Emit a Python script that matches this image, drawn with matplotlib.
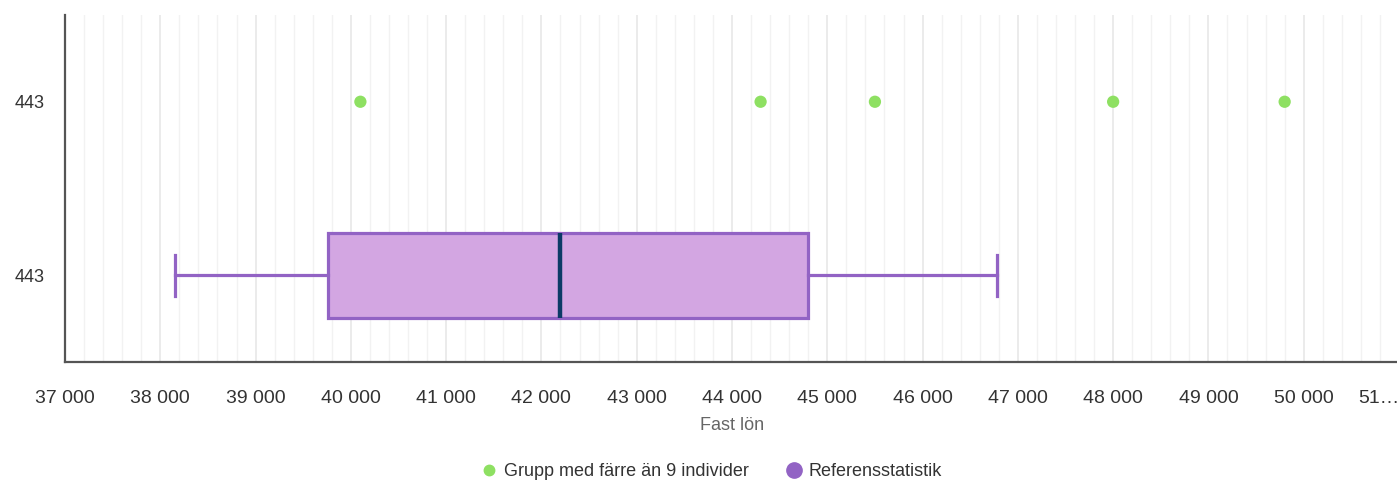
import matplotlib.pyplot as plt
from matplotlib.lines import Line2D
from matplotlib.ticker import MultipleLocator, FuncFormatter

plt.rcParams['font.family'] = ['Liberation Sans', 'DejaVu Sans']

# data
categories = ["443", "443"]
small_group_x = [40100, 44300, 45500, 48000, 49800]
ref_stats = {"whislo": 38150, "q1": 39760, "med": 42200, "q3": 44800, "whishi": 46780}
tick_values = list(range(37000, 51001, 1000))

green = "#8ee062"
purple_edge = "#9263c4"
purple_fill = "#d3a6e2"
median_col = "#0b3a66"

fig = plt.figure(figsize=(13.97, 4.82), dpi=100)
ax = fig.add_axes([65 / 1397, 120 / 482, 1334 / 1397, 347 / 482])

# points for the small group (top row)
ax.scatter(small_group_x, [0] * len(small_group_x), s=78, color=green,
           edgecolors="none", zorder=3)

# reference statistic box (bottom row)
stats = dict(ref_stats, label="")
ax.bxp([stats], positions=[1], vert=False, widths=0.49, showfliers=False,
       patch_artist=True, capwidths=0.235,
       boxprops=dict(facecolor=purple_fill, edgecolor=purple_edge, linewidth=2.3),
       whiskerprops=dict(color=purple_edge, linewidth=2.3),
       capprops=dict(color=purple_edge, linewidth=2.3),
       medianprops=dict(color=median_col, linewidth=3.2))

ax.set_ylim(1.5, -0.5)
ax.set_yticks([0, 1])
ax.set_yticklabels(categories)

ax.set_xlim(37000, 51000)
ax.set_xticks(tick_values)
ax.xaxis.set_major_formatter(FuncFormatter(
    lambda v, p: "51…" if v >= 51000 else f"{int(v):,}".replace(",", " ")))
ax.xaxis.set_minor_locator(MultipleLocator(200))
ax.grid(axis="x", which="major", color="#e6e6e6", linewidth=1.1)
ax.grid(axis="x", which="minor", color="#f2f2f2", linewidth=1.0)
ax.set_axisbelow(True)

ax.tick_params(axis="x", which="both", length=0, pad=20, labelsize=14,
               labelcolor="#333333")
ax.tick_params(axis="y", length=0, pad=15, labelsize=13, labelcolor="#333333")
lab = ax.get_xticklabels()[-1]
lab.set_horizontalalignment("right")

ax.set_xlabel("Fast lön", fontsize=13, color="#666666", labelpad=7)

for s in ["top", "right"]:
    ax.spines[s].set_visible(False)
for s in ["left", "bottom"]:
    ax.spines[s].set_color("#555555")
    ax.spines[s].set_linewidth(1.6)

handles = [
    Line2D([], [], marker="o", linestyle="none", color=green, markersize=7.5,
           label="Grupp med färre än 9 individer"),
    Line2D([], [], marker="o", linestyle="none", color=purple_edge, markersize=11,
           label="Referensstatistik"),
]
fig.legend(handles=handles, loc="center", bbox_to_anchor=(711 / 1397, 10 / 482),
           ncol=2, frameon=False, fontsize=13, labelcolor="#333333",
           handletextpad=0.3, columnspacing=2.0, handlelength=1.0)

fig.savefig("out.png", dpi=100)
